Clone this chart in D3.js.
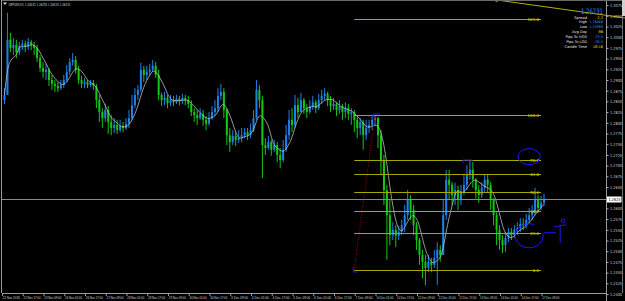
<!DOCTYPE html>
<html>
<head>
<meta charset="utf-8">
<script src="https://cdn.jsdelivr.net/npm/d3@7"></script>
<style>
  body { margin: 0; background: #000; }
  svg { display: block; font-family: "DejaVu Sans", sans-serif; }
</style>
</head>
<body>
<svg id="chart" width="625" height="301"></svg>
<script>
// GBPUSD H1 bars (open = previous close)
const firstOpen = 1.2853;
const closes = [
  1.2865,1.2994,1.2975,1.2982,1.2965,1.2980,1.2985,1.2978,1.2989,1.2982,
  1.2975,1.2951,1.2928,1.2919,1.2924,1.2900,1.2891,1.2886,1.2881,1.2888,
  1.2900,1.2919,1.2942,1.2947,1.2924,1.2900,1.2891,1.2895,1.2888,1.2893,
  1.2886,1.2853,1.2825,1.2811,1.2830,1.2802,1.2788,1.2795,1.2783,1.2793,
  1.2788,1.2798,1.2811,1.2841,1.2865,1.2877,1.2924,1.2912,1.2919,1.2924,
  1.2933,1.2912,1.2865,1.2853,1.2858,1.2846,1.2853,1.2848,1.2856,1.2851,
  1.2858,1.2853,1.2844,1.2825,1.2818,1.2811,1.2821,1.2807,1.2798,1.2811,
  1.2825,1.2834,1.2863,1.2872,1.2830,1.2771,1.2755,1.2769,1.2760,1.2764,
  1.2771,1.2778,1.2771,1.2783,1.2811,1.2877,1.2853,1.2748,1.2741,1.2755,
  1.2737,1.2748,1.2725,1.2713,1.2737,1.2771,1.2807,1.2795,1.2841,1.2825,
  1.2853,1.2834,1.2825,1.2839,1.2848,1.2834,1.2853,1.2863,1.2868,1.2853,
  1.2839,1.2844,1.2830,1.2839,1.2825,1.2834,1.2821,1.2825,1.2807,1.2788,
  1.2802,1.2771,1.2788,1.2795,1.2807,1.2811,1.2771,1.2713,1.2643,1.2584,
  1.2538,1.2550,1.2536,1.2545,1.2561,1.2584,1.2620,1.2596,1.2561,1.2526,
  1.2491,1.2475,1.2461,1.2475,1.2468,1.2484,1.2503,1.2491,1.2584,1.2667,
  1.2655,1.2631,1.2643,1.2620,1.2638,1.2655,1.2678,1.2690,1.2667,1.2643,
  1.2631,1.2648,1.2667,1.2655,1.2620,1.2584,1.2550,1.2526,1.2514,1.2531,
  1.2545,1.2538,1.2550,1.2554,1.2564,1.2561,1.2573,1.2584,1.2591,1.2620,
  1.2601,1.2613,1.26231
];
const highs = [
  1.2881,1.3057,1.3010,1.2998,1.2994,1.2989,1.2994,1.2992,1.2998,1.2994,
  1.2989,1.2982,1.2958,1.2942,1.2938,1.2928,1.2912,1.2900,1.2895,1.2900,
  1.2912,1.2935,1.2951,1.2963,1.2956,1.2933,1.2910,1.2905,1.2900,1.2900,
  1.2900,1.2891,1.2865,1.2834,1.2844,1.2839,1.2818,1.2811,1.2807,1.2807,
  1.2802,1.2811,1.2830,1.2865,1.2881,1.2888,1.2940,1.2933,1.2933,1.2938,
  1.2947,1.2942,1.2924,1.2870,1.2872,1.2865,1.2865,1.2863,1.2865,1.2863,
  1.2868,1.2865,1.2863,1.2853,1.2834,1.2830,1.2834,1.2830,1.2816,1.2825,
  1.2839,1.2853,1.2881,1.2891,1.2881,1.2834,1.2788,1.2783,1.2778,1.2783,
  1.2788,1.2788,1.2788,1.2798,1.2830,1.2900,1.2888,1.2863,1.2764,1.2769,
  1.2760,1.2760,1.2755,1.2741,1.2760,1.2795,1.2830,1.2834,1.2865,1.2858,
  1.2870,1.2858,1.2844,1.2853,1.2863,1.2853,1.2868,1.2877,1.2881,1.2872,
  1.2863,1.2858,1.2848,1.2853,1.2844,1.2848,1.2844,1.2834,1.2830,1.2818,
  1.2811,1.2807,1.2807,1.2807,1.2816,1.2818,1.2814,1.2783,1.2725,1.2655,
  1.2620,1.2568,1.2561,1.2559,1.2573,1.2608,1.2643,1.2631,1.2608,1.2568,
  1.2531,1.2503,1.2491,1.2491,1.2484,1.2503,1.2521,1.2514,1.2620,1.2690,
  1.2690,1.2662,1.2660,1.2653,1.2655,1.2678,1.2701,1.2713,1.2708,1.2671,
  1.2655,1.2662,1.2678,1.2678,1.2662,1.2624,1.2591,1.2561,1.2538,1.2545,
  1.2554,1.2554,1.2561,1.2568,1.2577,1.2577,1.2587,1.2601,1.2608,1.2648,
  1.2631,1.2629,1.2634
];
const lows = [
  1.2844,1.2865,1.2965,1.2958,1.2951,1.2958,1.2970,1.2965,1.2970,1.2970,
  1.2958,1.2942,1.2919,1.2905,1.2900,1.2886,1.2877,1.2872,1.2872,1.2877,
  1.2881,1.2895,1.2912,1.2933,1.2915,1.2891,1.2881,1.2881,1.2881,1.2884,
  1.2877,1.2834,1.2802,1.2788,1.2802,1.2774,1.2771,1.2776,1.2774,1.2778,
  1.2778,1.2783,1.2788,1.2807,1.2834,1.2853,1.2872,1.2895,1.2900,1.2910,
  1.2919,1.2905,1.2853,1.2839,1.2841,1.2834,1.2839,1.2839,1.2844,1.2841,
  1.2844,1.2841,1.2834,1.2816,1.2802,1.2795,1.2807,1.2793,1.2783,1.2793,
  1.2807,1.2816,1.2825,1.2853,1.2811,1.2748,1.2732,1.2748,1.2746,1.2753,
  1.2755,1.2764,1.2760,1.2764,1.2778,1.2807,1.2834,1.2671,1.2725,1.2737,
  1.2723,1.2732,1.2708,1.2694,1.2708,1.2732,1.2760,1.2778,1.2788,1.2811,
  1.2825,1.2821,1.2811,1.2821,1.2830,1.2823,1.2830,1.2844,1.2853,1.2839,
  1.2825,1.2830,1.2816,1.2821,1.2807,1.2811,1.2807,1.2795,1.2778,1.2764,
  1.2771,1.2737,1.2760,1.2776,1.2783,1.2793,1.2741,1.2678,1.2608,1.2480,
  1.2514,1.2526,1.2510,1.2526,1.2538,1.2545,1.2573,1.2573,1.2538,1.2503,
  1.2468,1.2437,1.2421,1.2451,1.2451,1.2461,1.2421,1.2475,1.2491,1.2573,
  1.2620,1.2608,1.2608,1.2596,1.2608,1.2631,1.2643,1.2667,1.2648,1.2624,
  1.2613,1.2624,1.2638,1.2638,1.2596,1.2561,1.2514,1.2503,1.2496,1.2498,
  1.2521,1.2526,1.2531,1.2538,1.2545,1.2550,1.2554,1.2564,1.2573,1.2584,
  1.2591,1.2596,1.2606
];

// time axis labels, one every 7 bars
const timeLabels = [
  "22 Nov 2018","22 Nov 17:00","23 Nov 09:00","26 Nov 01:00","26 Nov 17:00",
  "27 Nov 09:00","28 Nov 01:00","28 Nov 17:00","29 Nov 09:00","30 Nov 01:00",
  "30 Nov 17:00","3 Dec 09:00","4 Dec 01:00","4 Dec 17:00","5 Dec 09:00",
  "6 Dec 01:00","6 Dec 17:00","7 Dec 09:00","10 Dec 01:00","10 Dec 17:00",
  "11 Dec 09:00","12 Dec 01:00","12 Dec 17:00","13 Dec 09:00","14 Dec 01:00",
  "14 Dec 17:00","17 Dec 09:00"
];
const labelEvery = 7;

// fibonacci retracement object
const fibLevels = [0, 23.6, 38.2, 50, 61.8, 70.7, 100, 161.8];
const fibLowPrice = 1.24561, fibHighPrice = 1.28182;
const fibLowBar = 118, fibHighBar = 125, fibEndBar = 181;

// trend line (bar, price)
const trendFrom = [166, 1.3087], trendTo = [209.3, 1.3045];

const bidPrice = 1.26231;
const maPeriod = 5;

// info panel
const infoRows = [
  ["Spread", "2.2", "#e0e000"],
  ["High", "1.26466", "#1e90ff"],
  ["Low", "1.25966", "#1e90ff"],
  ["Avg Day", "86", "#e0e000"],
  ["Pips To HOD", "23.5", "#1e90ff"],
  ["Pips To LOD", "26.5", "#1e90ff"],
  ["Candle Time", "18:16", "#e0e000"]
];

const svg = d3.select("#chart");
const plotL = 2, plotR = 606, plotT = 0, plotB = 293;

const x = d3.scaleLinear().domain([0, closes.length - 1]).range([4.5, 544]);
const y = d3.scaleLinear().domain([1.2400, 1.3075]).range([294, 5.1]);

const bars = closes.map((c, i) => ({
  i, o: i ? closes[i - 1] : firstOpen, h: highs[i], l: lows[i], c
}));

svg.append("rect").attr("width", 625).attr("height", 301).attr("fill", "#000");

svg.append("clipPath").attr("id", "plot")
  .append("rect").attr("x", plotL).attr("y", plotT)
  .attr("width", plotR - plotL).attr("height", plotB - plotT);

const g = svg.append("g").attr("clip-path", "url(#plot)");

// candles
const upCol = "#1e80e8", downCol = "#12c812";
g.selectAll("line.wick").data(bars).enter().append("line")
  .attr("x1", d => x(d.i)).attr("x2", d => x(d.i))
  .attr("y1", d => y(d.h)).attr("y2", d => y(d.l))
  .attr("stroke", d => d.c >= d.o ? upCol : downCol)
  .attr("stroke-width", 1);
g.selectAll("rect.body").data(bars).enter().append("rect")
  .attr("x", d => x(d.i) - 1)
  .attr("y", d => y(Math.max(d.o, d.c)))
  .attr("width", 2)
  .attr("height", d => Math.max(1, Math.abs(y(d.o) - y(d.c))))
  .attr("fill", d => d.c >= d.o ? upCol : downCol);

// moving average of closes
const ma = closes.map((c, i) => d3.mean(closes.slice(Math.max(0, i - maPeriod + 1), i + 1)));
g.append("path").datum(ma)
  .attr("d", d3.line().x((d, i) => x(i)).y(d => y(d)).curve(d3.curveBasis))
  .attr("fill", "none").attr("stroke", "#bdbdbd").attr("stroke-width", 0.8);

// bid line
const bidY = Math.round(y(bidPrice)) + 0.5;
g.append("line")
  .attr("x1", plotL).attr("x2", plotR).attr("y1", bidY).attr("y2", bidY)
  .attr("stroke", "#8a8a8a").attr("stroke-width", 1);

// fibonacci
const fibCol = "#a6a600";
const fibPrice = lv => fibLowPrice + (fibHighPrice - fibLowPrice) * lv / 100;
g.append("line")
  .attr("x1", x(fibLowBar)).attr("y1", y(fibLowPrice))
  .attr("x2", x(fibHighBar)).attr("y2", y(fibHighPrice))
  .attr("stroke", "#b00000").attr("stroke-dasharray", "1,1.5").attr("stroke-width", 0.9);
fibLevels.forEach(lv => {
  const yy = Math.round(y(fibPrice(lv))) + 0.5;
  g.append("line").attr("x1", x(fibLowBar)).attr("x2", x(fibEndBar))
    .attr("y1", yy).attr("y2", yy).attr("stroke", fibCol).attr("stroke-width", 1);
  g.append("text").attr("x", x(fibEndBar) - 2).attr("y", yy + 1.2)
    .attr("text-anchor", "end").attr("font-size", 4).attr("fill", "#d8d800")
    .text(lv.toFixed(1));
});

// trend line
svg.append("line")
  .attr("x1", x(trendFrom[0])).attr("y1", y(trendFrom[1]))
  .attr("x2", x(trendTo[0])).attr("y2", y(trendTo[1]))
  .attr("stroke", "#b0b000").attr("stroke-width", 1);
svg.append("rect").attr("x", x(trendFrom[0]) - 1).attr("y", 0)
  .attr("width", 2).attr("height", 1.5).attr("fill", "#fff");

// blue hand annotations
const blue = "#1a1aff";
const ax0 = x(fibLowBar), ay0 = y(fibLowPrice);
const ax1 = x(fibHighBar), ay1 = y(fibHighPrice);
const ann = svg.append("g").attr("fill", "none").attr("stroke", blue).attr("stroke-width", 1);
ann.append("path").attr("d", `M${ax0 - 1},${ay0 - 3}V${ay0 + 2}H${ax0 + 3}`);
ann.append("path").attr("d", `M${ax1 - 2},${ay1 + 3}V${ay1 - 1}H${ax1 + 5}`);
const bx = x(155), by = y(1.2713);
ann.append("path").attr("d", `M${bx - 1},${by + 3}V${by}H${bx + 8}V${by + 2}`);
ann.append("ellipse").attr("cx", x(177)).attr("cy", y(1.2721)).attr("rx", 11).attr("ry", 8);
const ex = x(177), ey = y(1.2536), rx = 14, ry = 12;
ann.append("path").attr("d",
  `M${ex + rx * Math.cos(-1.2)},${ey + ry * Math.sin(-1.2)} A${rx},${ry} 0 1 0 ${ex + rx * Math.cos(-0.25)},${ey + ry * Math.sin(-0.25)}`);
ann.append("path").attr("d", `M${ex + 15},${ey - 3}H${ex + 27}`);
ann.append("path").attr("d", `M${ex + 25},${ey - 9}L${ex + 37},${ey - 11}M${ex + 31},${ey - 10}V${ey + 7}`);
ann.append("circle").attr("cx", ex + 34).attr("cy", ey - 15).attr("r", 1.8);

// frame
const frame = svg.append("g").attr("stroke", "#9a9a9a").attr("stroke-width", 1);
frame.append("line").attr("x1", plotL - 0.5).attr("x2", plotL - 0.5).attr("y1", 0).attr("y2", plotB);
frame.append("line").attr("x1", plotL).attr("x2", plotR).attr("y1", plotB + 0.5).attr("y2", plotB + 0.5);
frame.append("line").attr("x1", plotR + 0.5).attr("x2", plotR + 0.5).attr("y1", 0).attr("y2", 301);
frame.append("line").attr("x1", plotL).attr("x2", 625).attr("y1", 0.5).attr("y2", 0.5).attr("stroke", "#6a6a6a");
frame.append("line").attr("x1", 622.5).attr("x2", 622.5).attr("y1", 0).attr("y2", 293).attr("stroke", "#707070");
svg.append("rect").attr("x", 622).attr("y", 0).attr("width", 3).attr("height", 16).attr("fill", "#d0d0d0");

// price axis (labels under the bid tag are hidden, as in the terminal)
const priceTicks = d3.range(1.2400, 1.30751, 0.0025).filter(p => Math.abs(y(p) - bidY) > 4.5);
const yAxis = svg.append("g").attr("transform", `translate(${plotR + 0.5},0)`)
  .call(d3.axisRight(y).tickValues(priceTicks).tickSize(2).tickPadding(1.5).tickFormat(d3.format(".4f")));
yAxis.select(".domain").remove();
yAxis.selectAll("line").attr("stroke", "#b0b0b0");
yAxis.selectAll("text").attr("fill", "#d0d0d0").attr("font-size", 4.2)
  .attr("font-family", "DejaVu Sans").attr("textLength", 12).attr("lengthAdjust", "spacingAndGlyphs");

// bid price tag
svg.append("rect").attr("x", plotR + 1).attr("y", bidY - 3).attr("width", 14.5).attr("height", 6).attr("fill", "#fff");
svg.append("text").attr("x", plotR + 2.5).attr("y", bidY + 1.6).attr("font-size", 4.2)
  .attr("fill", "#000").attr("textLength", 12).attr("lengthAdjust", "spacingAndGlyphs")
  .text(d3.format(".4f")(bidPrice));

// time axis
const timeG = svg.append("g");
timeLabels.forEach((t, k) => {
  const tx = x(k * labelEvery) - 2.5;
  timeG.append("line").attr("x1", tx + 0.5).attr("x2", tx + 0.5).attr("y1", plotB).attr("y2", plotB + 3)
    .attr("stroke", "#9a9a9a");
  timeG.append("text").attr("x", tx + 0.8).attr("y", 299.3).attr("font-size", 3.3)
    .attr("font-family", "Liberation Sans").attr("fill", "#d0d0d0")
    .attr("textLength", 17).attr("lengthAdjust", "spacingAndGlyphs")
    .text(t);
});

// header
svg.append("path").attr("d", "M3,2.5H7L5,5Z").attr("fill", "#d0d0d0");
svg.append("text").attr("x", 8.5).attr("y", 5.5).attr("font-size", 4).attr("fill", "#d0d0d0")
  .attr("textLength", 62).attr("lengthAdjust", "spacingAndGlyphs")
  .text("GBPUSD,H1  1.26242 1.26253 1.26220 1.26231");

// info panel
svg.append("text").attr("x", 603).attr("y", 13.5).attr("text-anchor", "end")
  .attr("font-size", 7.5).attr("fill", "#1e90ff").attr("textLength", 22).attr("lengthAdjust", "spacingAndGlyphs")
  .text(d3.format(".5f")(bidPrice));
infoRows.forEach((r, k) => {
  const rowY = 18.6 + k * 4.85;
  svg.append("text").attr("x", 587).attr("y", rowY).attr("text-anchor", "end")
    .attr("font-size", 3.6).attr("fill", "#e8e8e8").text(r[0]);
  const v = svg.append("text").attr("x", 603).attr("y", rowY).attr("text-anchor", "end")
    .attr("font-size", 3.6).attr("fill", r[2]).text(r[1]);
  if (r[1].length > 5) v.attr("textLength", 13.5).attr("lengthAdjust", "spacingAndGlyphs");
});
</script>
</body>
</html>
